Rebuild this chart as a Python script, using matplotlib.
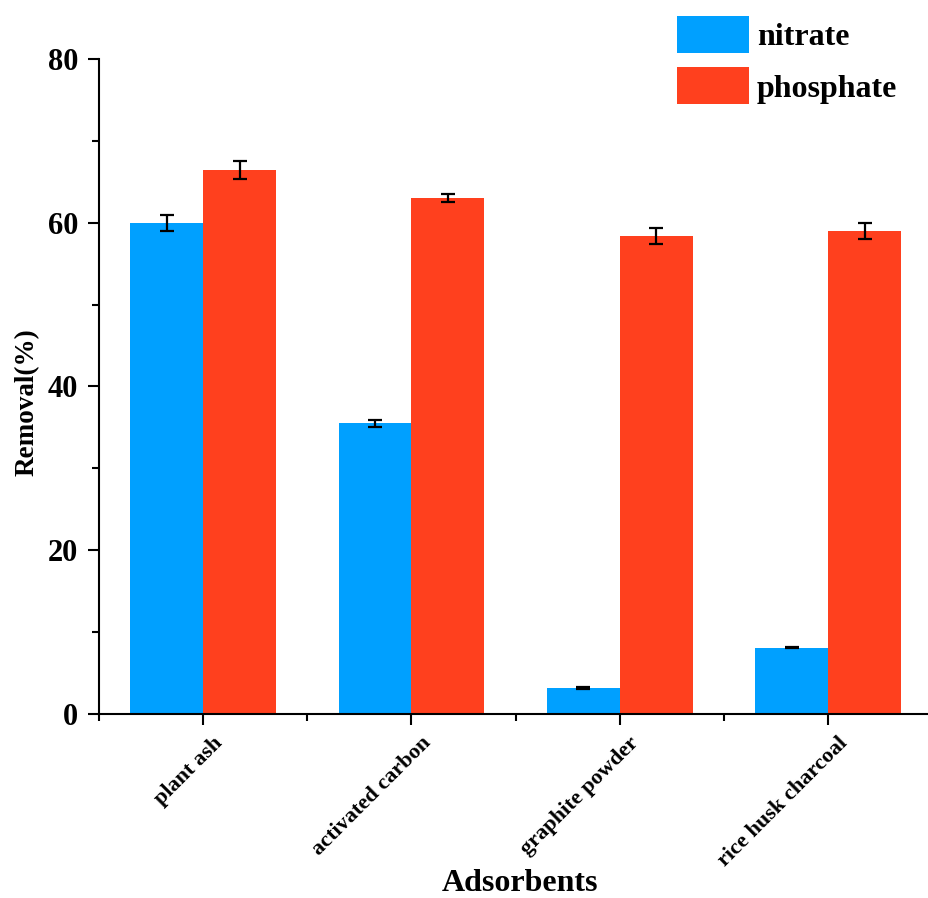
import matplotlib
matplotlib.use("Agg")
import matplotlib.pyplot as plt
import matplotlib.transforms as mtransforms
from matplotlib.ticker import MultipleLocator, FixedLocator
import numpy as np

plt.rcParams['font.family'] = ['Liberation Serif', 'DejaVu Serif']
plt.rcParams['font.weight'] = 'bold'

categories = ['plant ash', 'activated carbon', 'graphite powder', 'rice husk charcoal']
nitrate = [60.0, 35.5, 3.2, 8.1]
nitrate_err = [1.0, 0.4, 0.1, 0.1]
phosphate = [66.5, 63.0, 58.4, 59.0]
phosphate_err = [1.1, 0.5, 1.0, 1.0]

blue = '#00A0FF'
red = '#FF401E'

fig = plt.figure(figsize=(9.29, 8.98), dpi=100)
ax = fig.add_axes([0.1066, 0.2049, 0.8924, 0.7294])

x = np.arange(1, len(categories) + 1)
width = 0.35
err_kw = dict(ecolor='black', elinewidth=1.6, capthick=1.6, capsize=5)
ax.bar(x - width / 2, nitrate, width, yerr=nitrate_err, color=blue,
       label='nitrate', error_kw=err_kw)
ax.bar(x + width / 2, phosphate, width, yerr=phosphate_err, color=red,
       label='phosphate', error_kw=err_kw)

ax.set_xlim(0.5, 4.48)
ax.set_ylim(0, 80)
ax.set_xticks(x)
ax.xaxis.set_minor_locator(FixedLocator([0.5, 1.5, 2.5, 3.5]))
ax.yaxis.set_major_locator(MultipleLocator(20))
ax.yaxis.set_minor_locator(MultipleLocator(10))
ax.tick_params(axis='both', which='major', direction='out', length=8, width=1.5)
ax.tick_params(axis='both', which='minor', direction='out', length=5, width=1.5)
ax.tick_params(axis='y', which='major', labelsize=22, pad=7)
for lab in ax.get_yticklabels():
    lab.set_fontweight('bold')

ax.set_xticklabels(categories, rotation=45, ha='right', va='top',
                   rotation_mode='anchor', fontsize=16, fontweight='bold')
# shift the slanted labels a bit to the right like the original
shift = mtransforms.ScaledTranslation(0.09, -0.03, fig.dpi_scale_trans)
for lab in ax.get_xticklabels():
    lab.set_transform(lab.get_transform() + shift)

for s in ['top', 'right']:
    ax.spines[s].set_visible(False)
for s in ['left', 'bottom']:
    ax.spines[s].set_linewidth(1.5)

ax.set_ylabel('Removal(%)', fontsize=19.5, fontweight='bold')
ax.yaxis.set_label_coords(-0.072, 0.476)
ax.set_xlabel('Adsorbents', fontsize=23, fontweight='bold')
ax.xaxis.set_label_coords(0.508, -0.236)

fig.legend(loc='upper left', bbox_to_anchor=(0.729, 0.982), frameon=False,
           prop={'size': 23, 'weight': 'bold'}, handlelength=2.25,
           handleheight=1.4, labelspacing=0.45, handletextpad=0.25,
           borderpad=0, borderaxespad=0)

fig.savefig('out.png', dpi=100)
